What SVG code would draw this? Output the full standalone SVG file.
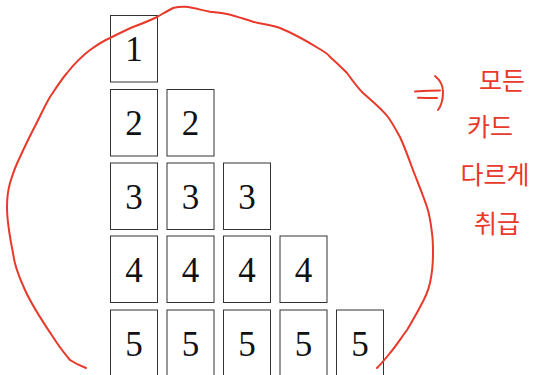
<svg xmlns="http://www.w3.org/2000/svg" width="535" height="375" viewBox="0 0 535 375">
<style>
.card rect{fill:#fff;stroke:#333;stroke-width:1}
.card text{font-family:"Liberation Serif","DejaVu Serif",serif;font-size:35px;fill:#111;text-anchor:middle}
.ink{fill:none;stroke:#e8392b;stroke-width:2;stroke-linecap:round;stroke-linejoin:round}
.note{font-family:"Noto Sans CJK KR",sans-serif;font-size:25px;fill:#e8392b;text-anchor:middle}
</style>
<rect width="535" height="375" fill="#fff"/>
<g id="cards">
<g id="c1-1" class="card"><rect x="110.5" y="15.5" width="47" height="66.5"/><text x="134" y="61">1</text></g>
<g id="c2-1" class="card"><rect x="110.5" y="89.5" width="47" height="66.5"/><text x="134" y="135">2</text></g>
<g id="c2-2" class="card"><rect x="167" y="89.5" width="47" height="66.5"/><text x="190.5" y="135">2</text></g>
<g id="c3-1" class="card"><rect x="110.5" y="163" width="47" height="66.5"/><text x="134" y="208.5">3</text></g>
<g id="c3-2" class="card"><rect x="167" y="163" width="47" height="66.5"/><text x="190.5" y="208.5">3</text></g>
<g id="c3-3" class="card"><rect x="223.5" y="163" width="47" height="66.5"/><text x="247" y="208.5">3</text></g>
<g id="c4-1" class="card"><rect x="110.5" y="236" width="47" height="66.5"/><text x="134" y="281.5">4</text></g>
<g id="c4-2" class="card"><rect x="167" y="236" width="47" height="66.5"/><text x="190.5" y="281.5">4</text></g>
<g id="c4-3" class="card"><rect x="223.5" y="236" width="47" height="66.5"/><text x="247" y="281.5">4</text></g>
<g id="c4-4" class="card"><rect x="280" y="236" width="47" height="66.5"/><text x="303.5" y="281.5">4</text></g>
<g id="c5-1" class="card"><rect x="110.5" y="310" width="47" height="70"/><text x="134" y="355.5">5</text></g>
<g id="c5-2" class="card"><rect x="167" y="310" width="47" height="70"/><text x="190.5" y="355.5">5</text></g>
<g id="c5-3" class="card"><rect x="223.5" y="310" width="47" height="70"/><text x="247" y="355.5">5</text></g>
<g id="c5-4" class="card"><rect x="280" y="310" width="47" height="70"/><text x="303.5" y="355.5">5</text></g>
<g id="c5-5" class="card"><rect x="336.5" y="310" width="47" height="70"/><text x="360" y="355.5">5</text></g>
</g>
<g id="annotations">
<path class="ink" d="M86,368 C78,365 73,362 70,360 C65,354 61,349 57,343 C45,325 33,308 25,290 C18,275 14,262 13,253 C10,238 7,220 7,207 C7,197 8,190 10,183 C13,173 16,165 20,157 C25,146 29,138 33,130 C40,117 44,107 50,97 C56,88 61,80 67,73 C75,63 82,56 90,50 C97,45 103,41 110,38 C118,34 126,30 133,27 C141,24 149,21 157,17 C164,13 169,10 173,8 C177,7 180,6.5 185,6.7 C195,7.5 202,10.5 210,11.7 C217,12.5 222,13 227,14 C236,16 244,19 253,21.7 C262,24 271,25 280,28 C292,33 305,40 318,48 C325,52 329,55 330,57 C337,63 342,68 347,73 C352,80 357,87 363,93 C372,101 381,108 388,117 C393,124 396,130 400,137 C405,148 409,159 413,170 C418,183 423,195 427,207 C430,216 431,225 432,233 C433,240 433,247 433,253 C433,264 432,274 430,283 C428,292 424,300 420,307 C416,315 411,323 407,330 C401,338 396,346 390,353 C386,358 381,364 377,368"/>
<path class="ink" d="M415,91.5 C423,91 432,90.5 440,90.5"/>
<path class="ink" d="M418,97.8 C425,98 431,98 437,98"/>
<path class="ink" d="M435,76 C440,80 443,86 443,92 C443,100 441,106 438,110"/>
<text class="note" x="502" y="90">모든</text>
<text class="note" x="490" y="136">카드</text>
<text class="note" x="495" y="184">다르게</text>
<text class="note" x="497" y="233">취급</text>
</g>
</svg>
